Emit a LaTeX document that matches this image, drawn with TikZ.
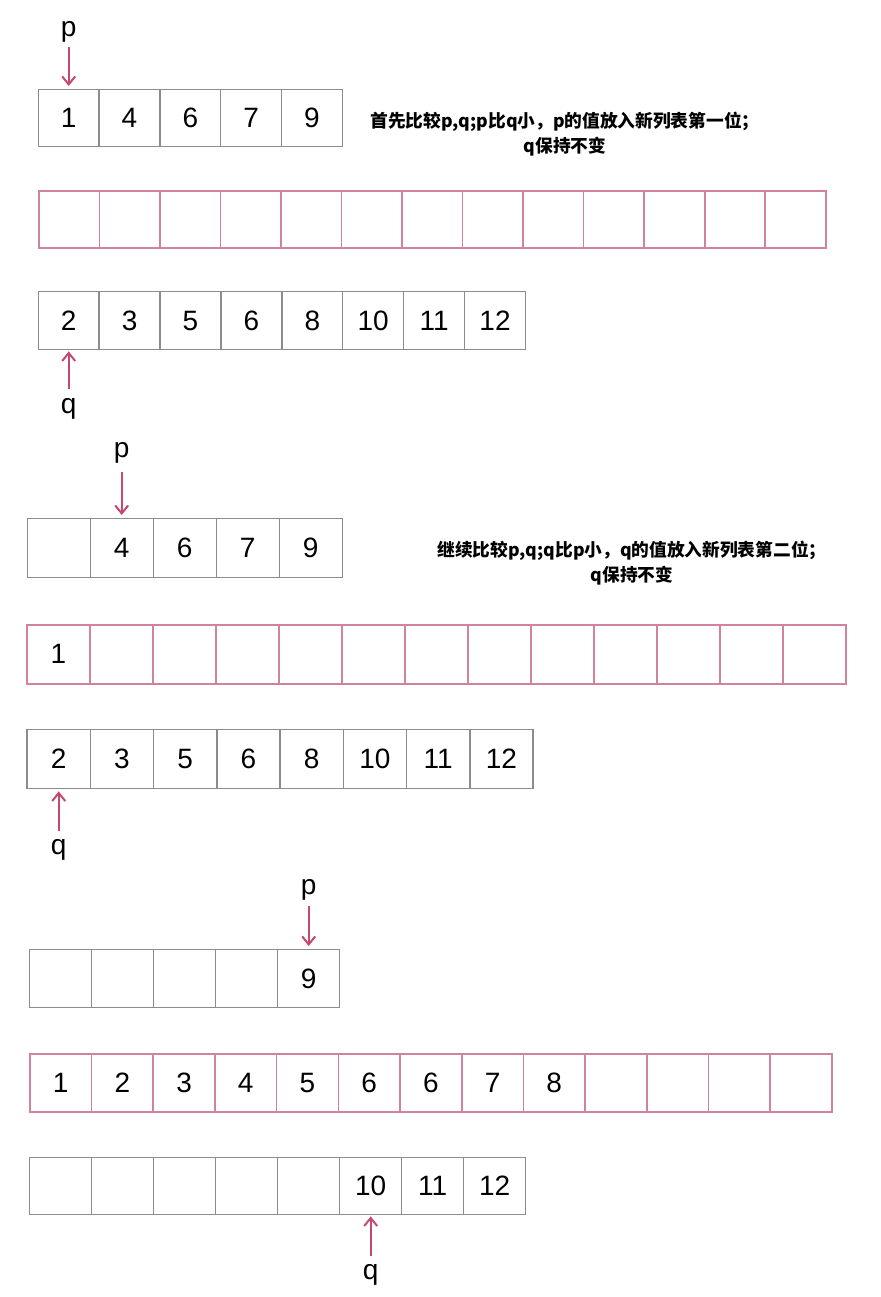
\documentclass[tikz,border=0pt]{standalone}
\usepackage{fontspec}
\setmainfont{Liberation Sans}
\newfontfamily\cjk{Noto Sans CJK SC}
\usetikzlibrary{positioning,arrows.meta}
\definecolor{ptrred}{RGB}{196,72,112}
\definecolor{newpink}{RGB}{208,130,158}
\definecolor{oldgray}{RGB}{140,140,140}

\begin{document}
\begin{tikzpicture}[x=1pt,y=-1pt,
	cell/.style={shape=rectangle,draw=oldgray,line width=1.4pt,inner sep=0pt,anchor=north west,font=\fontsize{28}{30}\selectfont},
	newcell/.style={cell,draw=newpink,line width=1.6pt},
	lbl/.style={inner sep=0pt,font=\fontsize{28}{30}\selectfont},
	ptr/.style={-{Straight Barb[length=8pt,width=13pt]},draw=ptrred,line width=2pt},
	note/.style={align=center,font=\cjk\bfseries\fontsize{17.7}{25}\selectfont}]
	\useasboundingbox (0,0) rectangle (880,1297);

	% first step
	\foreach \v [count=\i from 0] in {1,4,6,7,9}
		\node [cell,minimum width=60.8pt,minimum height=57pt] (pA\i) at (37.6+60.8*\i,89) {\v};
	\foreach \i in {0,...,12}
		\node [newcell,minimum width=60.54pt,minimum height=57pt] (nA\i) at (38+60.54*\i,190) {};
	\foreach \v [count=\i from 0] in {2,3,5,6,8,10,11,12}
		\node [cell,minimum width=60.9pt,minimum height=58pt] (qA\i) at (37.55+60.9*\i,291) {\v};
	\node [lbl,above=46pt of pA0] (p1) {p};
	\node [lbl,below=48pt of qA0] (q1) {q};
	\path [ptr,shorten <=4pt,shorten >=3pt] (p1) edge node {} (pA0);
	\path [ptr,shorten <=9pt,shorten >=1pt] (q1) edge node {} (qA0);
	\node [note] (t1) at (565,134) {首先比较p,q;p比q小，p的值放入新列表第一位；\\q保持不变};

	% second step
	\foreach \v [count=\i from 0] in {{},4,6,7,9}
		\node [cell,minimum width=63pt,minimum height=59pt] (pB\i) at (26.5+63*\i,518) {\v};
	\foreach \v [count=\i from 0] in {1,{},{},{},{},{},{},{},{},{},{},{},{}}
		\node [newcell,minimum width=63pt,minimum height=59pt] (nB\i) at (26+63*\i,624) {\v};
	\foreach \v [count=\i from 0] in {2,3,5,6,8,10,11,12}
		\node [cell,minimum width=63.25pt,minimum height=59pt] (qB\i) at (26.4+63.25*\i,729) {\v};
	\node [lbl,above=54pt of pB1] (p2) {p};
	\node [lbl,below=50pt of qB0] (q2) {q};
	\path [ptr,shorten <=8pt,shorten >=3pt] (p2) edge node {} (pB1);
	\path [ptr,shorten <=8pt,shorten >=2pt] (q2) edge node {} (qB0);
	\node [note] (t2) at (632,563) {继续比较p,q;q比p小，q的值放入新列表第二位；\\q保持不变};

	% last step
	\foreach \v [count=\i from 0] in {{},{},{},{},9}
		\node [cell,minimum width=62pt,minimum height=58pt] (pC\i) at (29+62*\i,949) {\v};
	\foreach \v [count=\i from 0] in {1,2,3,4,5,6,6,7,8,{},{},{},{}}
		\node [newcell,minimum width=61.7pt,minimum height=58pt] (nC\i) at (29+61.7*\i,1053) {\v};
	\foreach \v [count=\i from 0] in {{},{},{},{},{},10,11,12}
		\node [cell,minimum width=62pt,minimum height=57pt] (qC\i) at (29+62*\i,1157) {\v};
	\node [lbl,above=49pt of pC4] (p3) {p};
	\node [lbl,below=49pt of qC5] (q3) {q};
	\path [ptr,shorten <=6pt,shorten >=3pt] (p3) edge node {} (pC4);
	\path [ptr,shorten <=8pt,shorten >=1pt] (q3) edge node {} (qC5);
\end{tikzpicture}
\end{document}
